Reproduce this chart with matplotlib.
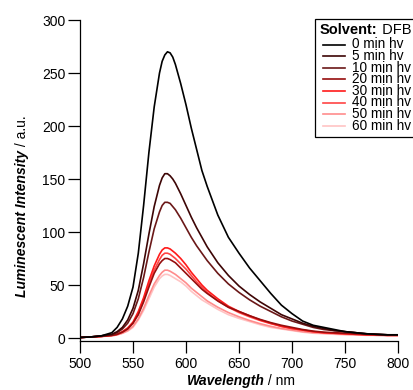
import matplotlib
matplotlib.use("Agg")
import matplotlib.pyplot as plt
from matplotlib.lines import Line2D
from matplotlib.patches import Rectangle
from matplotlib.font_manager import FontProperties

plt.rcParams['font.family'] = ['Liberation Sans', 'DejaVu Sans']

# emission spectra (nm, a.u.)
wavelength = [500, 510, 520, 530, 535, 540, 545, 550, 555, 560, 565, 570, 575, 577.5, 580, 582.5,
              585, 587.5, 590, 595, 600, 605, 610, 615, 620, 630, 640, 650, 660, 670, 680, 690,
              700, 710, 720, 730, 740, 750, 760, 770, 780, 790, 800]

int_0min = [0.5, 1, 2, 5, 10, 18, 30, 48, 80, 125, 175, 218, 250, 261, 267, 270,
            269, 265, 258, 240, 220, 198, 178, 158, 143, 116, 95, 80, 66, 54, 42, 31,
            23, 16, 12, 10, 8, 6, 5, 4, 3.5, 3, 3]
int_5min = [0.5, 1, 2, 3.5, 6, 10, 17, 28, 45, 70, 98, 124, 144, 151, 155, 155,
            153, 150, 146, 136, 125, 114, 104, 95, 86, 71, 59, 49, 41, 34, 28, 22,
            18, 14, 11, 9, 7, 6, 5, 4, 3.5, 3, 3]
int_10min = [0.5, 1, 2, 3, 5, 8.5, 14, 23, 37, 57, 81, 103, 119, 125, 128, 128,
             127, 124, 121, 113, 104, 95, 87, 80, 73, 61, 51, 43, 36, 30, 25, 20,
             16, 13, 10, 8, 7, 6, 5, 4, 3.5, 3, 3]
int_20min = [0.5, 1, 1.5, 2.5, 3.5, 5.5, 8.5, 14, 22, 34, 48, 61, 70, 73, 75, 75,
             74, 72.5, 71, 66, 61, 56, 51, 46, 42, 35, 29, 25, 21, 17.5, 14.5, 12,
             10, 8, 6.5, 5.5, 5, 4.5, 4, 3.5, 3, 3, 3]
int_30min = [0.5, 1, 1.5, 2.5, 3.5, 6, 9.5, 15, 25, 38, 54, 68, 79, 83, 85, 85,
             84, 82, 80, 75, 69, 62, 56, 50, 45, 37, 30, 25, 21, 17, 14, 11,
             9, 7.5, 6, 5, 4.5, 4, 3.5, 3, 3, 2.5, 2.5]
int_40min = [0.5, 1, 1.5, 2.5, 3.5, 5.5, 9, 14, 23, 36, 51, 64, 74, 78, 80, 80,
             79, 77, 75, 70, 65, 59, 53, 48, 43, 35, 29, 24, 20, 16.5, 13.5, 11,
             9, 7.5, 6, 5, 4.5, 4, 3.5, 3, 3, 2.5, 2.5]
int_50min = [0.5, 1, 1.5, 2, 3, 4.5, 7, 11, 18, 28, 40, 51, 59, 62, 64, 64,
             63, 61.5, 60, 56, 52, 47, 43, 39, 35, 29, 24, 20, 16.5, 13.5, 11, 9,
             7.5, 6, 5, 4.5, 4, 3.5, 3, 3, 2.5, 2.5, 2.5]
int_60min = [0.5, 1, 1.5, 2, 3, 4.5, 6.5, 10, 17, 26, 37, 48, 56, 58.5, 60, 60,
             59, 57.5, 56, 53, 49, 44, 40, 36, 33, 27, 22, 18.5, 15.5, 12.5, 10, 8.5,
             7, 5.5, 4.5, 4, 3.5, 3, 3, 2.5, 2.5, 2, 2]

labels = ['0 min hv', '5 min hv', '10 min hv', '20 min hv',
          '30 min hv', '40 min hv', '50 min hv', '60 min hv']
colors = ['#000000', '#3d0505', '#6b1818', '#960d0d',
          '#ff1a1a', '#ff4444', '#ff8c8c', '#ffc4c4']
spectra = [int_0min, int_5min, int_10min, int_20min,
           int_30min, int_40min, int_50min, int_60min]

W, H = 414, 390
fig = plt.figure(figsize=(W / 100, H / 100), dpi=100)


def P(x, y):
    # pixel position (from top-left) -> figure fraction
    return x / W, 1 - y / H


ax = fig.add_axes([80 / W, 1 - 341 / H, 318 / W, 321 / H])

for y, c in reversed(list(zip(spectra, colors))):
    ax.plot(wavelength, y, color=c, lw=1.2)

ax.set_xlim(500, 800)
ax.set_ylim(-2.83, 300)
ax.set_xticks(range(500, 801, 50))
ax.set_yticks(range(0, 301, 50))
for s in ['top', 'right']:
    ax.spines[s].set_visible(False)
for s in ['left', 'bottom']:
    ax.spines[s].set_linewidth(0.9)
ax.tick_params(direction='out', length=8.5, width=0.9, labelsize=10)
ax.tick_params(axis='x', pad=3)
ax.tick_params(axis='y', pad=2)

fig.canvas.draw()
r = fig.canvas.get_renderer()


def text_width(s, size=10, **kw):
    t = fig.text(0.5, 0.5, s, fontsize=size, **kw)
    w = t.get_window_extent(r).width
    t.remove()
    return w


# x label: bold italic + regular
w1 = text_width('Wavelength', weight='bold', style='italic')
w2 = text_width(' / nm')
x0 = 241 - (w1 + w2) / 2
fig.text(*P(x0, 381), 'Wavelength', fontsize=10, weight='bold', style='italic', va='center', ha='left')
fig.text(*P(x0 + w1, 381), ' / nm', fontsize=10, va='center', ha='left')

# y label, rotated, reads bottom to top
w3 = text_width('Luminescent Intensity', weight='bold', style='italic')
w4 = text_width(' / a.u.')
yb = 206 + (w3 + w4) / 2
fig.text(*P(22, yb), 'Luminescent Intensity', fontsize=10, weight='bold', style='italic',
         rotation=90, rotation_mode='anchor', ha='left', va='center')
fig.text(*P(22, yb - w3), ' / a.u.', fontsize=10, rotation=90, rotation_mode='anchor',
         ha='left', va='center')

# legend drawn by hand, it runs off the right edge
fig.patches.append(Rectangle(P(315, 137), 120 / W, 118 / H, transform=fig.transFigure,
                             facecolor='white', edgecolor='black', lw=0.9, zorder=5))
ws = text_width('Solvent:', size=10.5, weight='bold')
fig.text(*P(320, 30), 'Solvent:', fontsize=10.5, weight='bold', va='center', ha='left', zorder=6)
fig.text(*P(320 + ws + 0.5, 30), ' DFB', fontsize=10.5, va='center', ha='left', zorder=6)

row0, dy = 44.5, 11.6
n = len(labels)
for i, c in enumerate(colors):
    yy = row0 + i * dy
    fig.lines.append(Line2D([323 / W, 345 / W], [1 - yy / H, 1 - yy / H], transform=fig.transFigure,
                            color=c, lw=1.2, zorder=6))

# entry labels as one block of lines
# row step in matplotlib = linespacing * (ascent of "lp") + descent of "lp"
fp = FontProperties(family=['Liberation Sans', 'DejaVu Sans'], size=9.8)
_, lh, ld = r.get_text_width_height_descent('lp', fp, ismath=False)
ls = (dy - ld) / (lh - ld)
fig.text(*P(352, row0 + (n - 1) * dy / 2), '\n'.join(labels), fontproperties=fp,
         linespacing=ls, va='center', ha='left', zorder=6)

fig.savefig('out.png', dpi=100)
